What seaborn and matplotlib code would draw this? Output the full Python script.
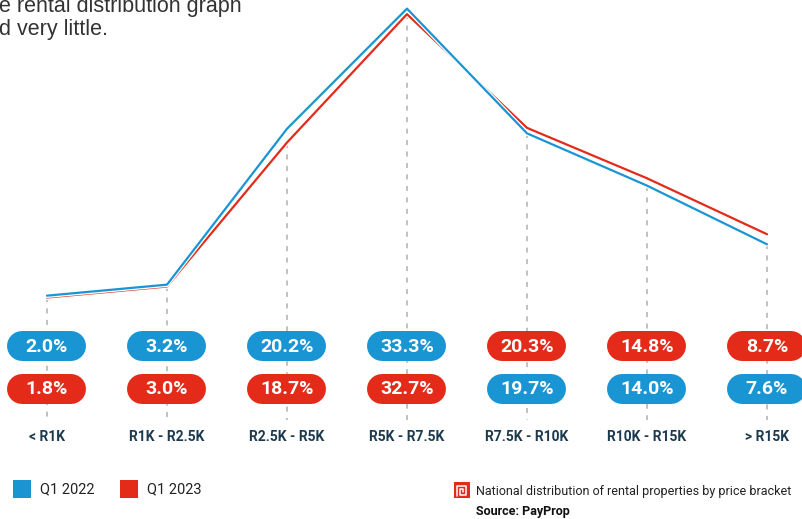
import numpy as np
import pandas as pd
import matplotlib
matplotlib.use("Agg")
import matplotlib.pyplot as plt
import matplotlib.patheffects as pe
from matplotlib.patches import Rectangle
from matplotlib import font_manager
import seaborn as sns

# ── data ─────────────────────────────────────────────────────────────────────
brackets = ["< R1K", "R1K - R2.5K", "R2.5K - R5K", "R5K - R7.5K",
            "R7.5K - R10K", "R10K - R15K", "> R15K"]
q1_2022 = [2.0, 3.2, 20.2, 33.3, 19.7, 14.0, 7.6]
q1_2023 = [1.8, 3.0, 18.7, 32.7, 20.3, 14.8, 8.7]
series_names = ["Q1 2022", "Q1 2023"]

BLUE = "#1995d3"
RED = "#e42a18"
GREY = "#b0b0b0"
NAVY = "#1c3a4e"

W, H = 803, 519

names = {f.name for f in font_manager.fontManager.ttflist}
NARROW = "Liberation Sans Narrow" if "Liberation Sans Narrow" in names else "Roboto"
small = 1.0 if NARROW != "Roboto" else 0.88

sns.set_style("white")
plt.rcParams["font.family"] = ["Roboto", "DejaVu Sans"]

df = pd.DataFrame({
    "bracket": list(range(len(brackets))) * 2,
    "share": q1_2022 + q1_2023,
    "series": [series_names[0]] * len(brackets) + [series_names[1]] * len(brackets),
})

fig = plt.figure(figsize=(W / 100, H / 100), dpi=100)
ax = fig.add_axes([0, 0, 1, 1])

# pixel layout of the source graphic: x = 47 + 120*i, y = 314 - 9.17*value
x_px0, x_step = 47, 120
y_zero, y_scale = 314, 9.17


def set_limits():
    ax.set_xlim(-x_px0 / x_step, (W - x_px0) / x_step)
    ax.set_ylim((y_zero - H) / y_scale, y_zero / y_scale)


set_limits()
ax.axis("off")


def vy(py):
    return (y_zero - py) / y_scale


label_y = vy(437)
dash_end = vy(420)

# dashed guides
for i in range(len(brackets)):
    top = min(q1_2022[i], q1_2023[i])
    ax.plot([i, i], [top, dash_end], color=GREY, lw=1.1,
            dashes=(3.3, 4.2), zorder=1)

# lines
stroke = [pe.withStroke(linewidth=3.4, foreground="white")]
sns.lineplot(data=df[df.series == series_names[1]], x="bracket", y="share",
             color=RED, lw=1.6, ax=ax, legend=False, zorder=3, path_effects=stroke)
sns.lineplot(data=df[df.series == series_names[0]], x="bracket", y="share",
             color=BLUE, lw=1.6, ax=ax, legend=False, zorder=4, path_effects=stroke)
set_limits()
ax.axis("off")

# overlay in pixel units for the rounded value pills
pax = fig.add_axes([0, 0, 1, 1], zorder=5)
pax.set_xlim(0, W)
pax.set_ylim(H, 0)
pax.axis("off")


def pill(i, py, txt, color):
    cx = x_px0 + x_step * i
    # stadium shape: thick line with round caps (30 px tall, 79 px wide)
    pax.plot([cx - 24.5, cx + 24.5], [py, py], color=color, lw=30 * 0.72,
             solid_capstyle="round")
    pax.text(cx, py + 0.5, txt, color="white", fontsize=14, fontweight="bold",
             ha="center", va="center")


for i in range(len(brackets)):
    a, b = q1_2022[i], q1_2023[i]
    if a >= b:
        pill(i, 346, f"{a:.1f}%", BLUE)
        pill(i, 388.5, f"{b:.1f}%", RED)
    else:
        pill(i, 346, f"{b:.1f}%", RED)
        pill(i, 388.5, f"{a:.1f}%", BLUE)
    ax.text(i, label_y, brackets[i], color=NAVY, fontsize=10,
            fontweight="bold", ha="center", va="center")
pax.set_xlim(0, W)
pax.set_ylim(H, 0)


def fx(px):
    return px / W


def fy(py):
    return 1 - py / H


# cropped intro text at top-left
fig.text(fx(-1), fy(12), "e rental distribution graph", family="Liberation Sans",
         fontsize=15.5, color="#333333", ha="left", va="baseline")
fig.text(fx(-1), fy(35.5), "d very little.", family="Liberation Sans",
         fontsize=15.5, color="#333333", ha="left", va="baseline")

# legend
for (sx, tx), name, col in zip([(13, 40), (120, 147)], series_names, [BLUE, RED]):
    fig.patches.append(Rectangle((fx(sx), fy(498)), 18 / W, 18 / H,
                                 transform=fig.transFigure, fc=col, ec="none"))
    fig.text(fx(tx), fy(489), name, family=NARROW, fontsize=12 * small,
             color="#222222", ha="left", va="center")

# footnote with icon
fig.patches.append(Rectangle((fx(454), fy(498)), 16 / W, 16 / H,
                             transform=fig.transFigure, fc=RED, ec="none"))
sx = np.array([457.5, 457.5, 466.5, 466.5, 460.5, 460.5, 463.5, 463.5])
sy = np.array([496, 485.5, 485.5, 494.5, 494.5, 488.5, 488.5, 492])
fig.lines.append(plt.Line2D(fx(sx), fy(sy), transform=fig.transFigure,
                            color="white", lw=1.1))
note_size = 9.3 if NARROW != "Roboto" else 9.0
fig.text(fx(476), fy(492), "National distribution of rental properties by price bracket",
         family=NARROW, fontsize=note_size, color="#222222", ha="left", va="center")
fig.text(fx(476), fy(512), "Source: PayProp", family=NARROW, fontsize=note_size,
         fontweight="bold", color="#111111", ha="left", va="center")

fig.savefig("out.png", dpi=100)
